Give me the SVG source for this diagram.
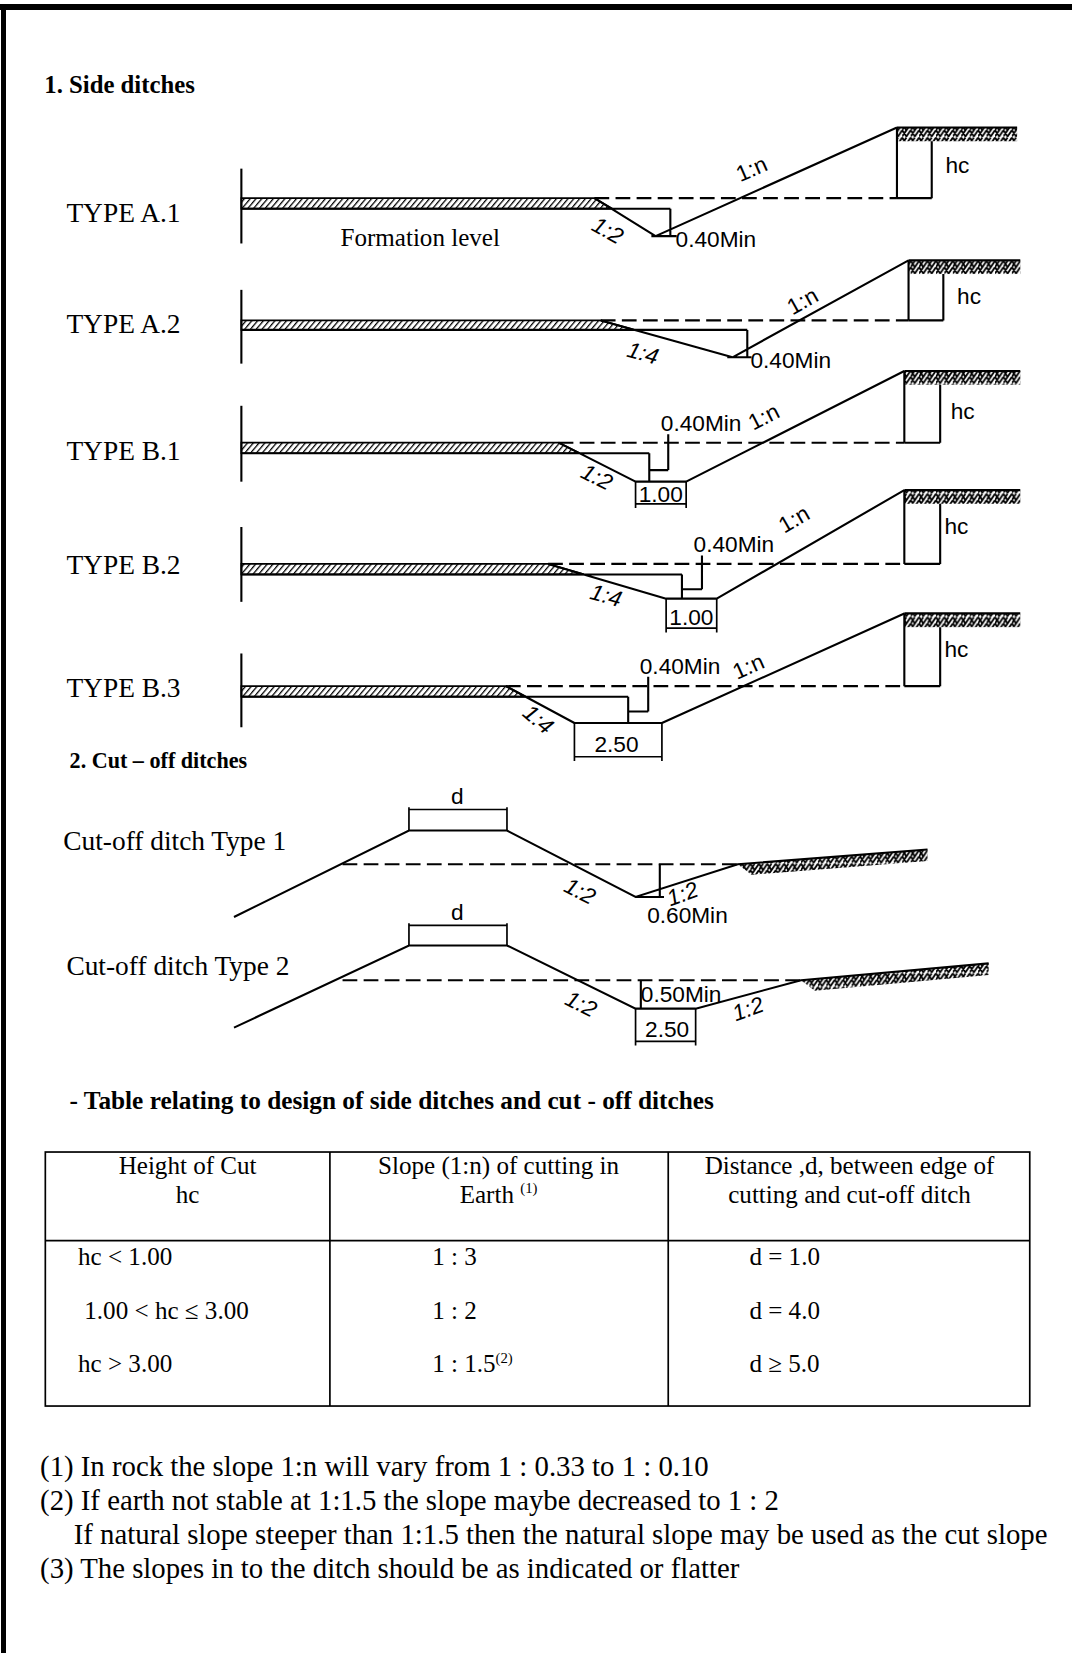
<svg xmlns="http://www.w3.org/2000/svg" width="1072" height="1653" viewBox="0 0 1072 1653">
<defs>
<pattern id="diag" width="4.2" height="4.2" patternUnits="userSpaceOnUse" patternTransform="rotate(40)"><line x1="0" y1="0" x2="0" y2="4.2" stroke="#000" stroke-width="2.4"/></pattern>
<pattern id="rock" width="8" height="13" patternUnits="userSpaceOnUse"><path d="M0 0.5 L4 6.5 L8 0.5 M0 6.5 L4 12.5 L8 6.5 M0 12.5 L4 6.5 M4 12.5 L8 6.5 M0 6.5 L4 0.5 M4 6.5 L8 0.5" stroke="#000" stroke-width="1.7" fill="none"/></pattern>
<style>
.ln{stroke:#000;stroke-width:2;fill:none}
.tn{stroke:#000;stroke-width:1.6;fill:none}
.ds{stroke:#000;stroke-width:2;fill:none;stroke-dasharray:14 6}
.band{fill:url(#diag);stroke:#000;stroke-width:1.6}
.rock{fill:url(#rock);stroke:none}
.h{font-family:"Liberation Serif","Times New Roman",serif;font-weight:bold;font-size:23.5px;fill:#000}
.typ{font-family:"Liberation Serif","Times New Roman",serif;font-size:26px;fill:#000}
.cad{font-family:"Liberation Sans","DejaVu Sans",sans-serif;font-size:21.5px;fill:#000}
.sl{font-family:"Liberation Sans","DejaVu Sans",sans-serif;font-size:21.5px;fill:#000;text-anchor:middle}
.td{font-family:"Liberation Serif","Times New Roman",serif;font-size:23.8px;fill:#000}
.nt{font-family:"Liberation Serif","Times New Roman",serif;font-size:27.3px;fill:#000}
</style>
</defs>
<rect x="0" y="4" width="1072" height="6" fill="#000"/>
<rect x="1" y="4" width="5" height="1649" fill="#000"/>
<g transform="scale(1.054)">
<text class="h" x="42" y="88">1. Side ditches</text>

<g id="typeA1">
<text class="typ" x="63" y="211">TYPE A.1</text>
<path class="ln" d="M229 160 V231"/>
<polygon class="band" points="229,188 564,188 581,198 229,198"/>
<path class="ln" d="M229 198 H636 M564 188 L622 224 M636 198 V224 M618 224 H642 M622 224 L851 121"/>
<path class="ds" d="M564 188 H851"/>
<rect class="rock" x="851" y="121" width="114" height="13"/>
<path class="ln" d="M851 121 H965 M851 121 V188 M884 134 V188 M851 188 H884"/>
<text class="cad" x="897" y="164">hc</text>
<text class="cad" x="641" y="234">0.40Min</text>
<text class="sl" transform="translate(716,167) rotate(-23.5)">1:n</text>
<text class="sl" font-style="italic" transform="translate(573,225) rotate(29)">1:2</text>
<text class="td" x="323" y="233">Formation level</text>
</g>

<g id="typeA2">
<text class="typ" x="63" y="316">TYPE A.2</text>
<path class="ln" d="M229 275 V345"/>
<polygon class="band" points="229,304 570,304 602,313 229,313"/>
<path class="ln" d="M229 313 H709 M570 304 L695 339 M709 313 V339 M690 339 H713 M695 339 L862 247"/>
<path class="ds" d="M570 304 H862"/>
<rect class="rock" x="862" y="247" width="106" height="13"/>
<path class="ln" d="M862 247 H968 M862 247 V304 M895 260 V304 M862 304 H895"/>
<text class="cad" x="908" y="288">hc</text>
<text class="cad" x="712" y="349">0.40Min</text>
<text class="sl" transform="translate(765,292) rotate(-29)">1:n</text>
<text class="sl" font-style="italic" transform="translate(608,342) rotate(16)">1:4</text>
</g>

<g id="typeB1">
<text class="typ" x="63" y="436">TYPE B.1</text>
<path class="ln" d="M229 385 V457"/>
<polygon class="band" points="229,420 530,420 550,430 229,430"/>
<path class="ln" d="M229 430 H616 M530 420 L603 457 M616 430 V457 M616 446 H634 M634 446 V412 M603 457 H651 M651 457 L858 352"/>
<path class="tn" d="M603 457 V482 M651 457 V482 M603 478 H651"/>
<path class="ds" d="M530 420 H858"/>
<rect class="rock" x="858" y="352" width="110" height="13"/>
<path class="ln" d="M858 352 H968 M858 352 V420 M892 365 V420 M858 420 H892"/>
<text class="cad" x="902" y="398">hc</text>
<text class="cad" x="627" y="409">0.40Min</text>
<text class="cad" x="606" y="476">1.00</text>
<text class="sl" transform="translate(728,402) rotate(-27)">1:n</text>
<text class="sl" font-style="italic" transform="translate(563,459) rotate(27)">1:2</text>
</g>

<g id="typeB2">
<text class="typ" x="63" y="545">TYPE B.2</text>
<path class="ln" d="M229 500 V571"/>
<polygon class="band" points="229,535 520,535 554,545 229,545"/>
<path class="ln" d="M229 545 H647 M520 535 L632 568 M647 545 V568 M647 559 H666 M666 559 V527 M632 568 H680 M680 568 L858 465"/>
<path class="tn" d="M632 568 V600 M680 568 V600 M632 596 H680"/>
<path class="ds" d="M520 535 H858"/>
<rect class="rock" x="858" y="465" width="110" height="13"/>
<path class="ln" d="M858 465 H968 M858 465 V535 M892 478 V535 M858 535 H892"/>
<text class="cad" x="896" y="507">hc</text>
<text class="cad" x="658" y="524">0.40Min</text>
<text class="cad" x="635" y="593">1.00</text>
<text class="sl" transform="translate(757,499) rotate(-30)">1:n</text>
<text class="sl" font-style="italic" transform="translate(573,572) rotate(16)">1:4</text>
</g>

<g id="typeB3">
<text class="typ" x="63" y="661">TYPE B.3</text>
<path class="ln" d="M229 620 V690"/>
<polygon class="band" points="229,651 480,651 499,661 229,661"/>
<path class="ln" d="M229 661 H596 M480 651 L545 686 M596 661 V686 M596 675 H615 M615 675 V642 M545 686 H628 M628 686 L858 582"/>
<path class="tn" d="M545 686 V722 M628 686 V722 M545 718 H628"/>
<path class="ds" d="M480 651 H858"/>
<rect class="rock" x="858" y="582" width="110" height="13"/>
<path class="ln" d="M858 582 H968 M858 582 V651 M892 595 V651 M858 651 H892"/>
<text class="cad" x="896" y="623">hc</text>
<text class="cad" x="607" y="639">0.40Min</text>
<text class="cad" x="564" y="713">2.50</text>
<text class="sl" transform="translate(713,639) rotate(-24)">1:n</text>
<text class="sl" font-style="italic" transform="translate(506,688) rotate(40)">1:4</text>
</g>

<text class="h" x="66" y="729" style="font-size:21px">2. Cut – off ditches</text>

<g id="cutoff1">
<text class="typ" x="60" y="806">Cut-off ditch Type 1</text>
<path class="ln" d="M222 870 L388 788 H481 L603 851 L700 820 L880 806 M626 820 V851 M603 851 H630"/>
<path class="tn" d="M388 766 V788 M481 766 V788 M388 768 H481"/>
<path class="ds" d="M325 820 H700"/>
<polygon class="rock" points="700,820 880,806 880,817 713,830"/>
<text class="cad" x="428" y="763">d</text>
<text class="cad" x="614" y="876">0.60Min</text>
<text class="sl" font-style="italic" transform="translate(547,852) rotate(27)">1:2</text>
<text class="sl" font-style="italic" transform="translate(650,855) rotate(-20)">1:2</text>
</g>

<g id="cutoff2">
<text class="typ" x="63" y="925">Cut-off ditch Type 2</text>
<path class="ln" d="M222 975 L388 897 H481 L603 957 H660 L760 930 L938 914 M608 930 V957"/>
<path class="tn" d="M388 876 V897 M481 876 V897 M388 878 H481 M603 957 V992 M660 957 V992 M603 988 H660"/>
<path class="ds" d="M325 930 H760"/>
<polygon class="rock" points="760,930 938,914 938,925 773,940"/>
<text class="cad" x="428" y="873">d</text>
<text class="cad" x="608" y="951">0.50Min</text>
<text class="cad" x="612" y="984">2.50</text>
<text class="sl" font-style="italic" transform="translate(548,959) rotate(27)">1:2</text>
<text class="sl" font-style="italic" transform="translate(712,964) rotate(-20)">1:2</text>
</g>

<text class="h" x="66" y="1052" style="font-size:24px">- Table relating to design of side ditches and cut - off ditches</text>

<g id="table">
<rect x="43" y="1093" width="934" height="241" fill="none" stroke="#000" stroke-width="1.6"/>
<path class="tn" d="M313 1093 V1334 M634 1093 V1334 M43 1177 H977"/>
<text class="td" x="178" y="1114" text-anchor="middle">Height of Cut</text>
<text class="td" x="178" y="1141" text-anchor="middle">hc</text>
<text class="td" x="473" y="1114" text-anchor="middle">Slope (1:n) of cutting in</text>
<text class="td" x="473" y="1141" text-anchor="middle">Earth <tspan font-size="14" dy="-9">(1)</tspan></text>
<text class="td" x="806" y="1114" text-anchor="middle">Distance ,d, between edge of</text>
<text class="td" x="806" y="1141" text-anchor="middle">cutting and cut-off ditch</text>
<text class="td" x="74" y="1200">hc &lt; 1.00</text>
<text class="td" x="410" y="1200">1 : 3</text>
<text class="td" x="711" y="1200">d = 1.0</text>
<text class="td" x="80" y="1251">1.00 &lt; hc ≤ 3.00</text>
<text class="td" x="410" y="1251">1 : 2</text>
<text class="td" x="711" y="1251">d = 4.0</text>
<text class="td" x="74" y="1302">hc &gt; 3.00</text>
<text class="td" x="410" y="1302">1 : 1.5<tspan font-size="14" dy="-9">(2)</tspan></text>
<text class="td" x="711" y="1302">d ≥ 5.0</text>
</g>

<g id="notes">
<text class="nt" x="38" y="1400">(1) In rock the slope 1:n will vary from 1 : 0.33 to 1 : 0.10</text>
<text class="nt" x="38" y="1433">(2) If earth not stable at 1:1.5 the slope maybe decreased to 1 : 2</text>
<text class="nt" x="70" y="1465">If natural slope steeper than 1:1.5 then the natural slope may be used as the cut slope</text>
<text class="nt" x="38" y="1497">(3) The slopes in to the ditch should be as indicated or flatter</text>
</g>
</g>
</svg>
